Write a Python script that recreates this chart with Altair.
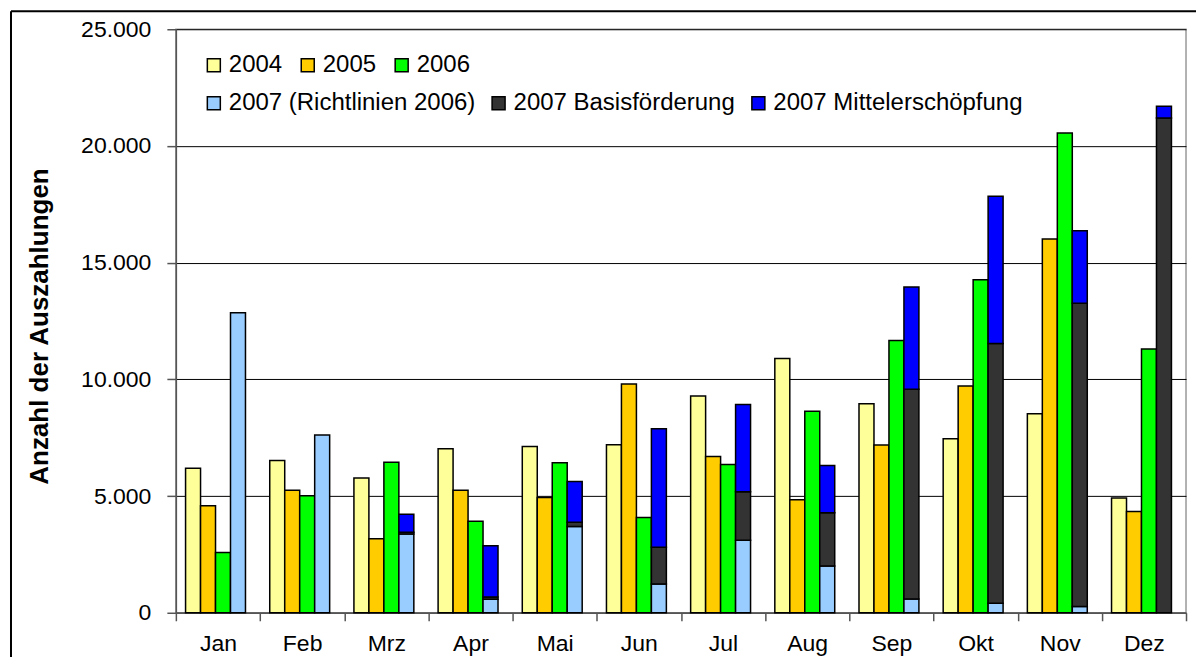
import altair as alt
import pandas as pd

months = ["Jan", "Feb", "Mrz", "Apr", "Mai", "Jun", "Jul", "Aug", "Sep", "Okt", "Nov", "Dez"]
v2004 = [6190, 6520, 5770, 7030, 7120, 7200, 9290, 10890, 8950, 7460, 8530, 4920]
v2005 = [4590, 5250, 3170, 5250, 4940, 9800, 6690, 4840, 7190, 9720, 16010, 4340]
v2006 = [2580, 5010, 6450, 3920, 6430, 4080, 6350, 8630, 11660, 14270, 20550, 11300]
r2007 = [12850, 7620, 3370, 580, 3700, 1230, 3110, 2000, 590, 410, 270, 0]
b2007 = [0, 0, 80, 100, 180, 1580, 2080, 2290, 8990, 11130, 12990, 21200]
m2007 = [0, 0, 770, 2190, 1740, 5070, 3730, 2020, 4380, 6310, 3110, 500]

year_names = ["2004", "2005", "2006"]
year_colors = ["#FFFF99", "#FFCC00", "#00FF00"]
part_names = ["2007 (Richtlinien 2006)", "2007 Basisförderung", "2007 Mittelerschöpfung"]
part_colors = ["#99CCFF", "#333333", "#0000FF"]
groups = ["2004", "2005", "2006", "2007"]

rows_a = []
rows_b = []
for i, m in enumerate(months):
    for g, vals in [("2004", v2004), ("2005", v2005), ("2006", v2006)]:
        rows_a.append({"month": m, "group": g, "series": g, "base": 0, "top": vals[i]})
    base = 0
    for s, vals in [(part_names[0], r2007), (part_names[1], b2007), (part_names[2], m2007)]:
        v = vals[i]
        if v > 0:
            rows_b.append({"month": m, "group": "2007", "series": s, "base": base, "top": base + v})
        base += v
df_a = pd.DataFrame(rows_a)
df_b = pd.DataFrame(rows_b)

FONT = "Liberation Sans"

x_enc = alt.X("month:N", sort=months,
              scale=alt.Scale(domain=months, paddingInner=0, paddingOuter=0),
              axis=alt.Axis(title=None, labelAngle=0, labelFontSize=23, labelFont=FONT,
                            labelColor="black", labelPadding=12, tickSize=8,
                            tickBand="extent", domainColor="#555555", tickColor="#555555",
                            domainWidth=1.5, tickWidth=1.5, grid=False))
xo_enc = alt.XOffset("group:N", sort=groups,
                     scale=alt.Scale(domain=groups, paddingInner=0, paddingOuter=0.81, align=0.4))
y_enc = alt.Y("top:Q",
              scale=alt.Scale(domain=[0, 25000], nice=False),
              axis=alt.Axis(title="Anzahl der Auszahlungen", values=[0, 5000, 10000, 15000, 20000, 25000],
                            labelExpr="replace(format(datum.value, ','), ',', '.')",
                            labelFontSize=23, labelFont=FONT, labelColor="black",
                            labelPadding=16, tickSize=9, domainColor="#555555", tickColor="#555555",
                            domainWidth=1.5, tickWidth=1.5, grid=True, gridColor="#000000", gridWidth=1,
                            titleFont=FONT, titleFontSize=26, titleFontWeight="bold", titleColor="black",
                            titleAngle=-90, titleX=-123, titleY=297, titleAlign="center",
                            titleBaseline="bottom"))


def legend(y, pad):
    return alt.Legend(title=None, orient="none", legendX=26, legendY=y,
                      direction="horizontal", columns=0,
                      symbolType="square", symbolSize=169,
                      symbolStrokeColor="black", symbolStrokeWidth=1.5,
                      labelFont=FONT, labelFontSize=24, labelColor="black",
                      labelOffset=3, columnPadding=pad, padding=0, labelLimit=400)


bars_a = alt.Chart(df_a).mark_bar(stroke="black", strokeWidth=1.5).encode(
    x=x_enc, xOffset=xo_enc, y=y_enc, y2="base:Q",
    color=alt.Color("series:N", scale=alt.Scale(domain=year_names, range=year_colors),
                    legend=legend(24, 13)),
)
bars_b = alt.Chart(df_b).mark_bar(stroke="black", strokeWidth=1.5).encode(
    x=x_enc, xOffset=xo_enc, y=y_enc, y2="base:Q",
    fill=alt.Fill("series:N", scale=alt.Scale(domain=part_names, range=part_colors),
                  legend=legend(62, 11)),
)

frame = pd.DataFrame({"k": [0]})
top_rule = alt.Chart(frame).mark_rule(color="black", strokeWidth=2).encode(
    x=alt.value(-165), x2=alt.value(1200), y=alt.value(-18))
left_rule = alt.Chart(frame).mark_rule(color="black", strokeWidth=2).encode(
    x=alt.value(-165), y=alt.value(-18), y2=alt.value(700))

chart = alt.layer(bars_a, bars_b, top_rule, left_rule).resolve_scale(
    color="independent", fill="independent"
).properties(
    width=1011, height=584,
    autosize=alt.AutoSizeParams(type="none"),
    padding={"left": 168, "top": 21, "right": 10, "bottom": 44},
    background="white",
).configure_view(stroke="#999999", strokeWidth=1.5)

chart.save("out.html", embed_options={"renderer": "svg", "actions": False})
